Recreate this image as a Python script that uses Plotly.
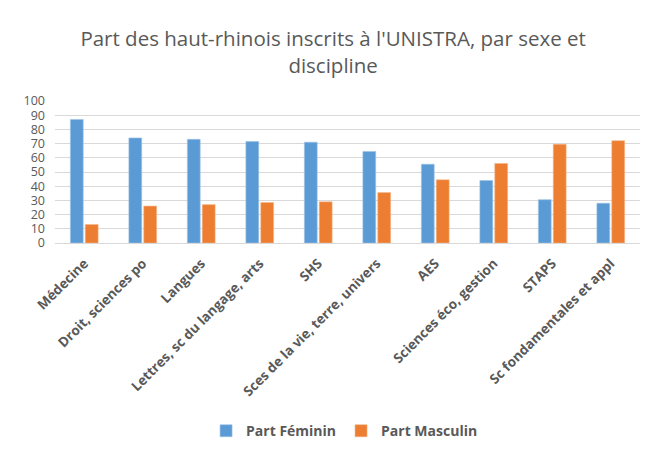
import plotly.graph_objects as go

disciplines = [
    "Médecine", "Droit, sciences po", "Langues", "Lettres, sc du langage, arts",
    "SHS", "Sces de la vie, terre, univers", "AES", "Sciences éco, gestion",
    "STAPS", "Sc fondamentales et appl",
]
part_feminin = [87, 74, 73, 71.5, 71, 64.5, 55.5, 44, 30.5, 28]
part_masculin = [13, 26, 27, 28.5, 29, 35.5, 44.5, 56, 69.5, 72]
y_ticks = [0, 10, 20, 30, 40, 50, 60, 70, 80, 90, 100]

GREY = '#595959'

fig = go.Figure()

fig.add_trace(go.Bar(
    x=disciplines, y=part_feminin, name='Part Féminin',
    marker=dict(color='#5B9BD5', line=dict(color='#9DC3E6', width=0.6)),
))
fig.add_trace(go.Bar(
    x=disciplines, y=part_masculin, name='Part Masculin',
    marker=dict(color='#ED7D31', line=dict(color='#F4B183', width=0.6)),
))

# the page body adds an 8px offset, so the figure is sized 640x448
fig.update_layout(
    title=dict(
        text="Part des haut-rhinois inscrits à l'UNISTRA, par sexe et<br>discipline",
        font=dict(size=20.5, color=GREY),
        x=0.508, xanchor='center', y=0.915, yanchor='top',
    ),
    barmode='group',
    bargap=0.49,
    bargroupgap=0.14,
    xaxis=dict(
        tickangle=-45, automargin=False, ticklabelstandoff=9,
        tickfont=dict(size=13.5, color=GREY, family='Open Sans', weight='bold'),
        showgrid=False, ticks='', showline=False,
    ),
    yaxis=dict(
        range=[0, 100], tickvals=y_ticks, automargin=False, ticklabelstandoff=9,
        tickfont=dict(size=12.5, color=GREY),
        showgrid=True, gridcolor='#D9D9D9', gridwidth=1,
        zeroline=True, zerolinecolor='#D9D9D9', zerolinewidth=1,
        ticks='', showline=False,
    ),
    legend=dict(
        orientation='h', xanchor='center', x=0.495,
        yanchor='middle', y=-1.325, yref='paper', itemwidth=30,
        font=dict(size=14, color=GREY, weight='bold'),
    ),
    plot_bgcolor='white',
    paper_bgcolor='white',
    font=dict(family='Open Sans', size=13, color=GREY),
    margin=dict(l=47, r=8, t=93, b=204),
    width=640, height=448,
)

fig.write_html("out.html")
